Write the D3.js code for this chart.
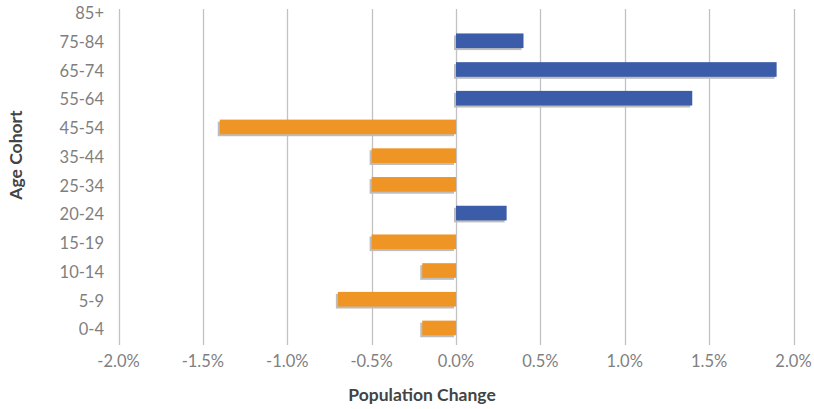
<!DOCTYPE html>
<html><head><meta charset="utf-8">
<script src="https://cdn.jsdelivr.net/npm/d3@7"></script>
<style>body{margin:0;background:#fff}svg{display:block}</style>
</head><body>
<svg id="c" width="814" height="409"></svg>
<script>
const categories = ["85+","75-84","65-74","55-64","45-54","35-44","25-34","20-24","15-19","10-14","5-9","0-4"];
const values = [0, 0.4, 1.9, 1.4, -1.4, -0.5, -0.5, 0.3, -0.5, -0.2, -0.7, -0.2];
const xTicks = [-2.0,-1.5,-1.0,-0.5,0,0.5,1.0,1.5,2.0];
const xTitle = "Population Change";
const yTitle = "Age Cohort";

const svg = d3.select("#c");
const font = "Lato, 'Open Sans', sans-serif";
const x = d3.scaleLinear().domain([-2,2]).range([118.5,793.5]);
const y = d3.scaleBand().domain(categories).range([-2.3,342.3]).paddingInner(0.49).paddingOuter(0.245);
const gridTop = 9, gridBot = 345;

// gridlines
svg.append("g").selectAll("line").data(xTicks).join("line")
  .attr("x1",d=>Math.round(x(d))+0.5).attr("x2",d=>Math.round(x(d))+0.5)
  .attr("y1",gridTop).attr("y2",gridBot)
  .attr("stroke","#c2c2c2").attr("stroke-width",1.3);

const rows = values.map((v,i)=>({v,c:categories[i]}));
// shadows
svg.append("g").selectAll("rect").data(rows).join("rect")
  .attr("x",d=>Math.min(x(0),x(d.v))-2)
  .attr("y",d=>y(d.c)+2)
  .attr("width",d=>Math.abs(x(d.v)-x(0)))
  .attr("height",y.bandwidth())
  .attr("fill","#bdbdbd")
  .attr("display",d=>d.v===0?"none":null);
// bars
svg.append("g").selectAll("rect").data(rows).join("rect")
  .attr("x",d=>Math.min(x(0),x(d.v)))
  .attr("y",d=>y(d.c))
  .attr("width",d=>Math.abs(x(d.v)-x(0)))
  .attr("height",y.bandwidth())
  .attr("fill",d=>d.v>=0?"#3b5ca8":"#ef9526")
  .attr("display",d=>d.v===0?"none":null);

// y labels
svg.append("g").selectAll("text").data(categories).join("text")
  .attr("x",104).attr("y",d=>y(d)+y.bandwidth()/2+1.5)
  .attr("dy","0.35em").attr("text-anchor","end")
  .attr("font-family",font).attr("font-size",16.5).attr("fill","#7f7f7f")
  .text(d=>d);
// x labels
const fmt = d3.format(".1%");
svg.append("g").selectAll("text").data(xTicks).join("text")
  .attr("x",d=>x(d)).attr("y",361).attr("dy","0.35em").attr("text-anchor","middle")
  .attr("font-family",font).attr("font-size",16.5).attr("fill","#7f7f7f")
  .text(d=>fmt(d/100).replace("\u2212","-"));

svg.append("text").attr("x",422).attr("y",395).attr("dy","0.35em").attr("text-anchor","middle")
  .attr("font-family",font).attr("font-size",17.5).attr("font-weight","bold").attr("fill","#444")
  .text(xTitle);
svg.append("text").attr("transform","translate(16,155) rotate(-90)").attr("dy","0.35em").attr("text-anchor","middle")
  .attr("font-family",font).attr("font-size",17.5).attr("font-weight","bold").attr("fill","#444")
  .text(yTitle);
</script>
</body></html>
